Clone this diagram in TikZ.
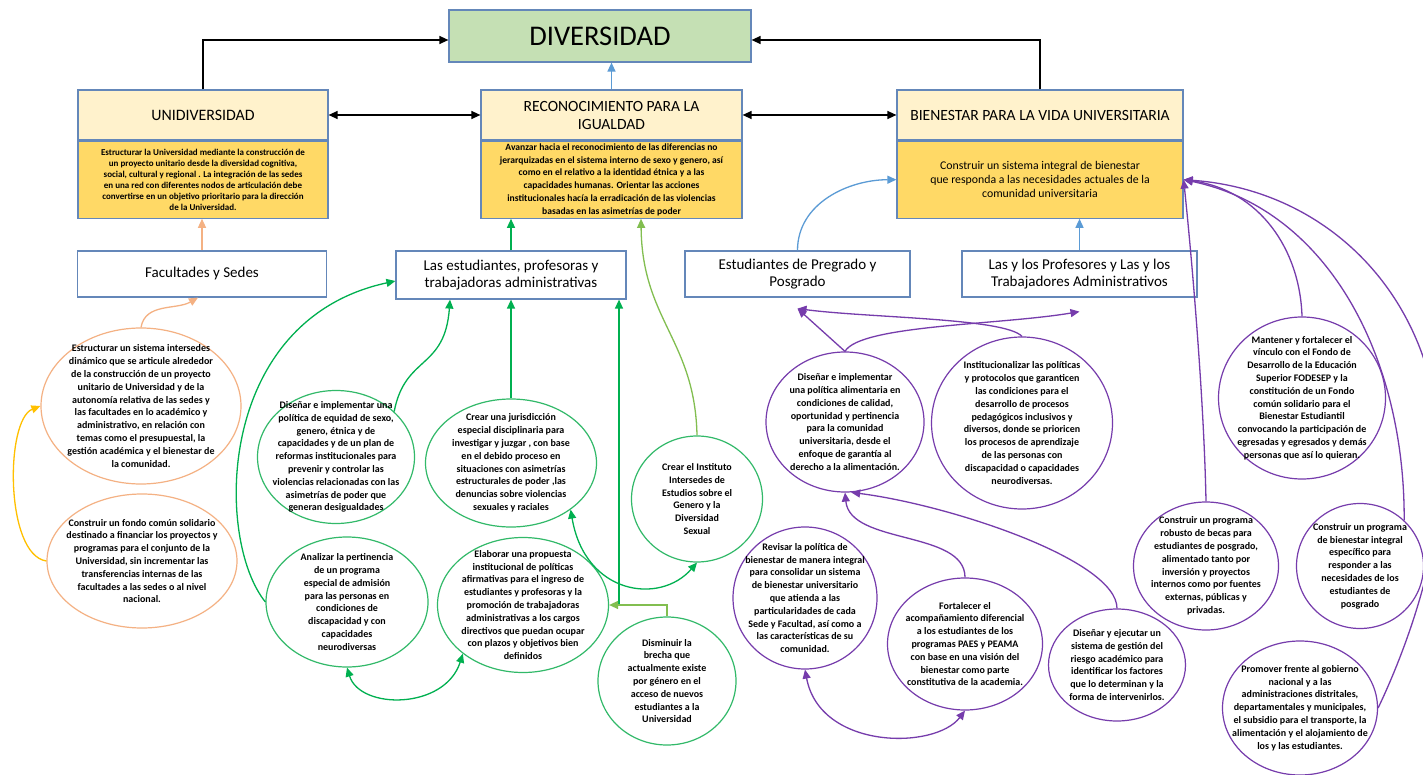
\documentclass[tikz,border=0pt]{standalone}
\usepackage{fontspec}
\setmainfont{Carlito}
\usetikzlibrary{positioning, shapes.geometric, arrows.meta}

\definecolor{borde}{RGB}{100,135,185}
\definecolor{verdediv}{RGB}{197,224,180}
\definecolor{crema}{RGB}{255,242,204}
\definecolor{oro}{RGB}{255,217,102}
\definecolor{morado}{RGB}{118,60,172}
\definecolor{verde}{RGB}{0,176,80}
\definecolor{verdecirc}{RGB}{50,185,105}
\definecolor{verdeclaro}{RGB}{130,190,80}
\definecolor{naranja}{RGB}{244,177,131}
\definecolor{amarillo}{RGB}{255,192,0}
\definecolor{azul}{RGB}{91,155,213}

\begin{document}
\begin{tikzpicture}[x=1pt, y=-1pt,
  cabeza/.style={draw=borde, fill=crema, line width=1.2pt, minimum height=50, inner sep=2pt, align=center, font=\fontsize{15.6}{18}\selectfont},
  cuerpo/.style={draw=borde, fill=oro, line width=1.2pt, minimum height=77, inner sep=1pt, align=center},
  eje/.style={draw=borde, line width=1.2pt, minimum height=46, align=center, font=\fontsize{15}{17}\selectfont},
  idea/.style={ellipse, draw, line width=1.2pt, inner sep=0pt},
  texto/.style={align=center, font=\fontsize{10}{12.8}\selectfont\bfseries},
  flecha/.style={line width=1.3pt, -{Triangle[length=9pt, width=8pt]}},
  doble/.style={line width=1.3pt, {Triangle[length=9pt, width=8pt]}-{Triangle[length=9pt, width=8pt]}}]
  \fill[white] (0,0) rectangle (1423,775);
  \useasboundingbox (0,0) rectangle (1423,775);

  \node[cabeza, fill=verdediv, minimum width=302, minimum height=52, font=\fontsize{28.5}{32}\selectfont] (div) at (600,36) {DIVERSIDAD};

  \node[cabeza, minimum width=250, font=\fontsize{15.9}{18}\selectfont] (uni) at (203,115) {UNIDIVERSIDAD};
  \node[cuerpo, minimum width=250, below=0pt of uni, font=\fontsize{9}{11}\selectfont\bfseries] (unitxt) {Estructurar la Universidad mediante la construcción de\\un proyecto unitario desde la diversidad cognitiva,\\social, cultural y regional . La integración de las sedes\\en una red con diferentes nodos de articulación debe\\convertirse  en un objetivo prioritario para la dirección\\de la Universidad.};
  \node[cabeza, minimum width=261] (reco) at (611.5,115) {RECONOCIMIENTO PARA LA\\IGUALDAD};
  \node[cuerpo, minimum width=261, below=0pt of reco, font=\fontsize{9.6}{12.7}\selectfont\bfseries] (recotxt) {Avanzar hacia el reconocimiento de las diferencias no\\jerarquizadas en el sistema interno de sexo y genero, así\\como en el relativo a la identidad étnica y a las\\capacidades humanas. Orientar las acciones\\institucionales hacía la erradicación de las violencias\\basadas en las asimetrías de poder};
  \node[cabeza, minimum width=286, font=\fontsize{15.6}{18}\selectfont] (bien) at (1040,115) {BIENESTAR PARA LA VIDA UNIVERSITARIA};
  \node[cuerpo, minimum width=286, below=0pt of bien, font=\fontsize{11.8}{14}\selectfont] (bientxt) {Construir un sistema integral de bienestar\\que responda a las necesidades actuales de la\\comunidad universitaria};

  \node[eje, minimum width=249] (fac) at (202,274) {Facultades y Sedes};
  \node[eje, minimum width=230, minimum height=48] (est) at (511,275) {Las estudiantes, profesoras y\\trabajadoras administrativas};
  \node[eje, minimum width=225] (pre) at (797.5,274) {Estudiantes de Pregrado y\\Posgrado};
  \node[eje, minimum width=235] (prof) at (1079.5,274) {Las y los Profesores y Las y los\\Trabajadores Administrativos};

  \node[idea, draw=naranja, minimum width=200, minimum height=156, label={[texto]center:{Estructurar un sistema intersedes\\dinámico que se articule alrededor\\de la construcción de un proyecto\\unitario de Universidad y de la\\autonomía relativa de las sedes y\\las facultades en lo académico y\\administrativo, en relación con\\temas como el presupuestal, la\\gestión académica y el bienestar de\\la comunidad.}}] (o1) at (141,406) {};
  \node[idea, draw=naranja, minimum width=190, minimum height=134, label={[texto]center:{Construir un fondo común solidario\\destinado a financiar los proyectos y\\programas para el conjunto de la\\Universidad, sin incrementar las\\transferencias internas  de las\\facultades a las sedes o al nivel\\nacional.}}] (o2) at (142,561) {};

  \node[idea, draw=verdecirc, minimum width=157, minimum height=133, label={[texto]center:{Diseñar e implementar una\\política de equidad de sexo,\\genero, étnica y de\\capacidades y de un  plan de\\reformas institucionales  para\\prevenir y controlar las\\violencias relacionadas con las\\asimetrías de poder que\\generan desigualdades}}] (g1) at (336,457) {};
  \node[idea, draw=verdecirc, minimum width=171, minimum height=128, label={[texto]center:{Crear una jurisdicción\\especial disciplinaria para\\investigar y juzgar , con base\\en el debido proceso en\\situaciones con asimetrías\\estructurales de poder ,las\\denuncias sobre violencias\\sexuales y raciales}}] (g2) at (511,463) {};
  \node[idea, draw=verdecirc, minimum width=162, minimum height=130, label={[texto]center:{Analizar la pertinencia\\de un programa\\especial de admisión\\para las personas en\\condiciones de\\discapacidad y con\\capacidades\\neurodiversas}}] (g3) at (347,602) {};
  \node[idea, draw=verdecirc, minimum width=171, minimum height=135, label={[texto]center:{Elaborar una propuesta\\institucional de políticas\\afirmativas para el ingreso de\\estudiantes  y profesoras y la\\promoción de trabajadoras\\administrativas a los cargos\\directivos que puedan ocupar\\con plazos y objetivos bien\\definidos}}] (g4) at (523,605) {};
  \node[idea, draw=verdecirc, minimum width=138, minimum height=128, label={[texto]center:{Disminuir la\\brecha que\\actualmente existe\\por género en el\\acceso de nuevos\\estudiantes a la\\Universidad}}] (g5) at (667,681) {};
  \node[idea, draw=verdecirc, minimum width=131, minimum height=126, label={[texto]center:{Crear el Instituto\\Intersedes de\\Estudios sobre el\\Genero y la\\Diversidad\\Sexual}}] (g6) at (697,499) {};

  \node[idea, draw=morado, minimum width=158, minimum height=140, label={[texto]center:{Diseñar e implementar\\una política alimentaria en\\condiciones de calidad,\\oportunidad y pertinencia\\para la comunidad\\universitaria, desde el\\enfoque de garantía al\\derecho a la alimentación.}}] (p1) at (845,422) {};
  \node[idea, draw=morado, minimum width=181, minimum height=172, label={[texto]center:{Institucionalizar las políticas\\y protocolos que garanticen\\las condiciones para el\\desarrollo de procesos\\pedagógicos inclusivos y\\diversos, donde se prioricen\\los procesos de aprendizaje\\de las personas con\\discapacidad o capacidades\\neurodiversas.}}] (p2) at (1022,423) {};
  \node[idea, draw=morado, minimum width=167, minimum height=162, label={[texto]center:{Mantener y fortalecer el\\vínculo con el Fondo de\\Desarrollo de la Educación\\Superior FODESEP y la\\constitución de un Fondo\\común solidario para el\\Bienestar Estudiantil\\convocando la participación de\\egresadas y egresados y demás\\personas que así lo quieran.}}] (p3) at (1302,398) {};
  \node[idea, draw=morado, minimum width=144, minimum height=142, label={[texto]center:{Revisar la política de\\bienestar de manera integral\\para consolidar un sistema\\de bienestar universitario\\que atienda a las\\particularidades de cada\\Sede y Facultad, así como a\\las características de su\\comunidad.}}] (p4) at (805,598) {};
  \node[idea, draw=morado, minimum width=155, minimum height=132, label={[texto]center:{Fortalecer el\\acompañamiento diferencial\\a los estudiantes de los\\programas PAES y PEAMA\\con base en una visión del\\bienestar como parte\\constitutiva de la academia.}}] (p5) at (965,644) {};
  \node[idea, draw=morado, minimum width=137, minimum height=112, label={[texto]center:{Diseñar y ejecutar un\\sistema de gestión del\\riesgo académico para\\identificar los factores\\que lo determinan y la\\forma de intervenirlos.}}] (p6) at (1117,665) {};
  \node[idea, draw=morado, minimum width=145, minimum height=128, label={[texto]center:{Construir un programa\\robusto de becas para\\estudiantes de posgrado,\\alimentado tanto por\\inversión y proyectos\\internos como por fuentes\\externas, públicas y\\privadas.}}] (p7) at (1206,566) {};
  \node[idea, draw=morado, minimum width=127, minimum height=125, label={[texto]center:{Construir un programa\\de bienestar integral\\específico para\\responder a las\\necesidades de los\\estudiantes de\\posgrado}}] (p8) at (1360,566) {};
  \node[idea, draw=morado, minimum width=155, minimum height=134, label={[texto]center:{Promover frente al gobierno\\nacional y a las\\administraciones distritales,\\departamentales y municipales,\\el subsidio para el transporte, la\\alimentación y el alojamiento de\\los y las estudiantes.}}] (p9) at (1300,708) {};

  \draw[flecha] (uni.north) |- ([yshift=-4pt]div.west);
  \draw[flecha] (bien.north) |- ([yshift=-4pt]div.east);
  \draw[flecha, azul] (reco.north) -- (reco.north |- div.south);
  \draw[doble] (uni.east) -- (reco.west);
  \draw[doble] (reco.east) -- (bien.west);

  \draw[flecha, naranja] (fac.north) -- (fac.north |- unitxt.south);
  \draw[flecha, verde] (est.north) -- (est.north |- recotxt.south);
  \draw[flecha, verdeclaro] (g6.north) .. controls (695,340) and (642,320) .. ([xshift=29.5pt]recotxt.south);
  \draw[flecha, azul] (prof.north) -- (prof.north |- bientxt.south);
  \draw[flecha, azul] (pre.north) to[out=90, in=180] (bientxt.west);

  \draw[flecha, naranja] (o1.north) to[out=80, in=210] ([xshift=-4pt]fac.south);
  \draw[flecha, amarillo] (o2.west) .. controls (5,555) and (5,420) .. (o1.west);

  \coordinate (junta) at (619,605);
  \draw[flecha, verde] (g1.38) .. controls (405,355) and (445,370) .. ([xshift=-61pt]est.south);
  \draw[flecha, verde] (g2.north) -- (est.south);
  \draw[flecha, verde] (junta) -- (junta |- est.south);
  \draw[flecha, verdeclaro] (g5.north) |- (g4.east);
  \draw[flecha, verde] (g3.west) .. controls (215,540) and (215,320) .. ([yshift=-6pt]est.west);
  \draw[doble, verde] (g3.south) .. controls (360,710) and (445,710) .. (g4.219);
  \draw[doble, verde] (g2.322) .. controls (585,595) and (660,605) .. (g6.south);

  \draw[flecha, morado] (p1.north) -- ([yshift=-11pt]pre.south);
  \draw[flecha, morado] (p1.north) .. controls (860,325) and (1000,325) .. ([yshift=-14pt]prof.south);
  \draw[flecha, morado] (p2.north) .. controls (1005,318) and (870,318) .. ([yshift=-11pt]pre.south);
  \draw[flecha, morado] (p5.north) .. controls (965,530) and (850,545) .. (p1.south);
  \draw[flecha, morado] (p6.north) .. controls (1117,560) and (950,505) .. (p1.-85);
  \draw[doble, morado] (p4.south) .. controls (820,750) and (935,750) .. (p5.south);

  \draw[flecha, morado] (p7.north) .. controls (1204,400) and (1192,260) .. (bientxt.east);
  \draw[flecha, morado] (p3.north) .. controls (1300,250) and (1260,190) .. (bientxt.east);
  \draw[flecha, morado] (p8.46) .. controls (1405,360) and (1330,210) .. (bientxt.east);
  \draw[flecha, morado] (p9.east) .. controls (1420,620) and (1445,520) .. (1440,460) .. controls (1440,300) and (1330,190) .. (bientxt.east);
\end{tikzpicture}
\end{document}
